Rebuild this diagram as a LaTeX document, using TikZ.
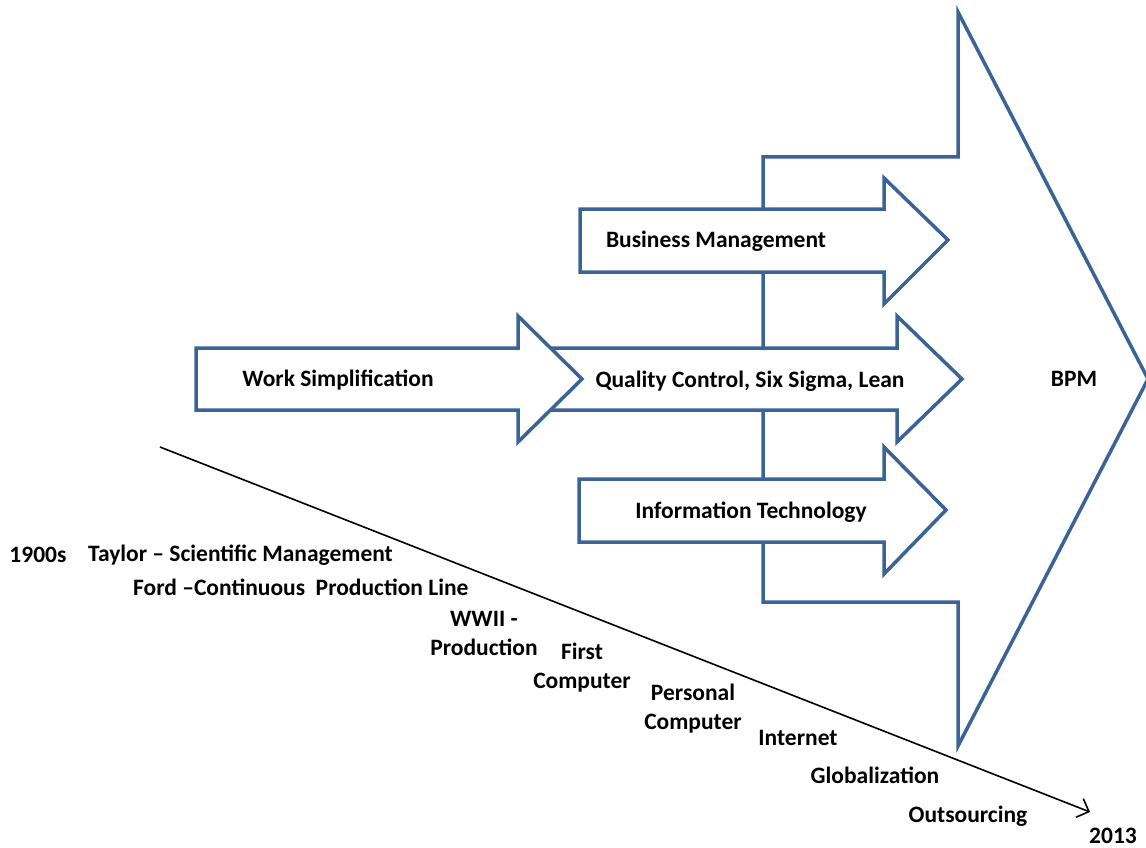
\documentclass[tikz,border=0pt]{standalone}
\usepackage{fontspec}
\setmainfont{Carlito}
\usetikzlibrary{arrows.meta}
\definecolor{shapeblue}{HTML}{3B6395}

\begin{document}
\begin{tikzpicture}[x=1pt,y=-1pt,line join=miter,
    blockarrow/.style={draw=shapeblue,line width=3.5pt,fill=white},
    label/.style={font=\fontsize{23.5}{29}\selectfont\bfseries,inner sep=0pt,align=center},
    timeline/.style={draw=black,line width=1.6pt,-{Straight Barb[length=10pt,width=20pt]}}]
  \useasboundingbox (0,0) rectangle (1146,848);

  % big BPM arrow
  \draw [blockarrow] (763,157) -- (958,157) -- (958,12) -- (1148,379)
    -- (958,746) -- (958,602) -- (763,602) -- cycle;
  \node [label] (bpm) at (1074,379) {BPM};

  % Quality Control (its tail lies under the Work Simplification head)
  \draw [blockarrow] (540,348) -- (897,348) -- (897,316) -- (962,379)
    -- (897,442) -- (897,410) -- (540,410) -- cycle;
  % Business Management
  \draw [blockarrow] (580,209) -- (884,209) -- (884,178) -- (948,240)
    -- (884,304) -- (884,272) -- (580,272) -- cycle;
  % Information Technology
  \draw [blockarrow] (579,479) -- (884,479) -- (884,447) -- (946,510)
    -- (884,574) -- (884,542) -- (579,542) -- cycle;
  % Work Simplification
  \draw [blockarrow] (196,348) -- (518,348) -- (518,316) -- (582,379)
    -- (518,442) -- (518,410) -- (196,410) -- cycle;

  \node [label] (ws) at (338,380) {Work Simplification};
  \node [label] (qc) at (750,381) {Quality Control, Six Sigma, Lean};
  \node [label] (bm) at (716,241) {Business Management};
  \node [label] (it) at (751,512) {Information Technology};

  % time line
  \coordinate (tstart) at (160,447);
  \coordinate (tend) at (1090,812);
  \draw [timeline] (tstart) -- (tend);

  \node [label] (start) at (38,555) {1900s};
  \node [label,anchor=west] (taylor) at (88,555) {Taylor -- Scientific Management};
  \node [label,anchor=west] (ford) at (133,587) {Ford --Continuous\ \ Production Line};
  \node [label] (wwii) at (484,633) {WWII -\\Production};
  \node [label] (first) at (582,668) {First\\Computer};
  \node [label] (pc) at (693,709) {Personal\\Computer};
  \node [label] (internet) at (798,738) {Internet};
  \node [label] (global) at (875,775) {Globalization};
  \node [label] (outsrc) at (968,816) {Outsourcing};
  \node [label] (end) at (1113,836) {2013};
\end{tikzpicture}
\end{document}
